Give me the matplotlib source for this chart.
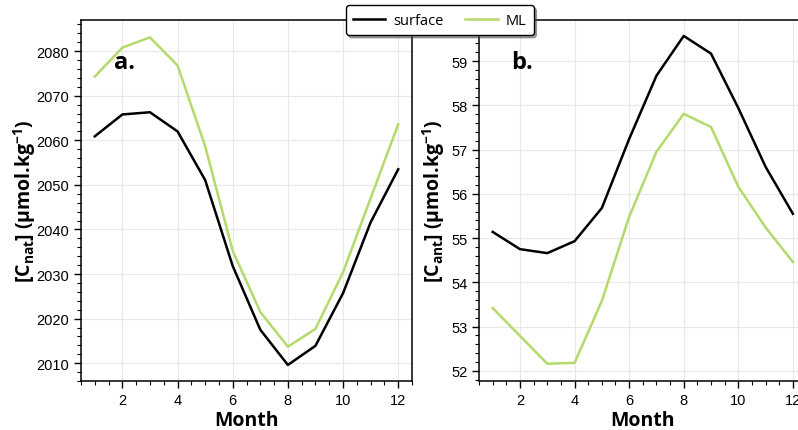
import matplotlib
matplotlib.use("Agg")
import matplotlib.pyplot as plt
from matplotlib.ticker import MultipleLocator

plt.rcParams['font.family'] = ['Liberation Sans', 'DejaVu Sans']
plt.rcParams['mathtext.fontset'] = 'custom'
plt.rcParams['mathtext.rm'] = 'Open Sans:bold'
plt.rcParams['mathtext.it'] = 'Open Sans:bold'
plt.rcParams['mathtext.bf'] = 'Open Sans:bold'

months = [1, 2, 3, 4, 5, 6, 7, 8, 9, 10, 11, 12]

cnat_surface = [2060.9, 2065.8, 2066.3, 2062.0, 2051.1, 2031.8, 2017.5, 2009.6, 2013.9, 2025.7, 2041.6, 2053.5]
cnat_ml = [2074.3, 2080.8, 2083.1, 2076.8, 2058.7, 2035.2, 2021.5, 2013.7, 2017.7, 2030.4, 2047.0, 2063.6]

cant_surface = [55.14, 54.75, 54.66, 54.93, 55.68, 57.24, 58.67, 59.57, 59.17, 57.94, 56.61, 55.55]
cant_ml = [53.42, 52.79, 52.16, 52.18, 53.58, 55.48, 56.95, 57.81, 57.51, 56.16, 55.24, 54.46]

c_surf = 'black'
c_ml = '#b5d96b'
bold_font = dict(family='Open Sans', weight='bold')

fig = plt.figure(figsize=(7.98, 4.31), dpi=100)
ax1 = fig.add_axes([0.1015, 0.1137, 0.4148, 0.8376])
ax2 = fig.add_axes([0.6003, 0.1137, 0.4104, 0.8376])


def style(ax):
    ax.xaxis.set_major_locator(MultipleLocator(2))
    ax.xaxis.set_minor_locator(MultipleLocator(0.5))
    ax.set_xlim(0.5, 12.5)
    ax.tick_params(which='major', direction='out', length=5, width=1, labelsize=10.5,
                   top=False, right=False)
    ax.tick_params(which='minor', direction='out', length=3, width=0.8,
                   top=False, right=False)
    ax.grid(True, which='major', color='#e8e8e8', lw=0.8)
    ax.set_axisbelow(True)
    for s in ax.spines.values():
        s.set_linewidth(1.1)
    ax.set_xlabel('Month', fontsize=14, **bold_font, labelpad=2)


l1, = ax1.plot(months, cnat_surface, color=c_surf, lw=1.8, label='surface')
l2, = ax1.plot(months, cnat_ml, color=c_ml, lw=1.8, label='ML')
style(ax1)
ax1.set_ylim(2006, 2087)
ax1.yaxis.set_major_locator(MultipleLocator(10))
ax1.yaxis.set_minor_locator(MultipleLocator(2))
ax1.set_ylabel(r'[C$_{\mathrm{nat}}$] (μmol.kg$^{\mathrm{-1}}$)', fontsize=14, **bold_font)
ax1.yaxis.set_label_coords(-0.13, 0.5)
ax1.text(0.10, 0.867, 'a.', transform=ax1.transAxes, fontsize=17, **bold_font)

ax2.plot(months, cant_surface, color=c_surf, lw=1.8)
ax2.plot(months, cant_ml, color=c_ml, lw=1.8)
style(ax2)
ax2.set_ylim(51.77, 59.93)
ax2.yaxis.set_major_locator(MultipleLocator(1))
ax2.yaxis.set_minor_locator(MultipleLocator(0.2))
ax2.set_ylabel(r'[C$_{\mathrm{ant}}$] (μmol.kg$^{\mathrm{-1}}$)', fontsize=14, **bold_font)
ax2.yaxis.set_label_coords(-0.098, 0.5)
ax2.text(0.098, 0.867, 'b.', transform=ax2.transAxes, fontsize=17, **bold_font)

leg = fig.legend(handles=[l1, l2], loc='center', bbox_to_anchor=(0.551, 0.951), ncol=2,
                 frameon=True, fancybox=True, shadow=True, edgecolor='black',
                 framealpha=1, prop=dict(family='Open Sans', size=10.5),
                 handlelength=2.2, handletextpad=0.55, columnspacing=1.5, borderpad=0.5)
leg.get_frame().set_linewidth(1.0)

fig.savefig('out.png', dpi=100)
